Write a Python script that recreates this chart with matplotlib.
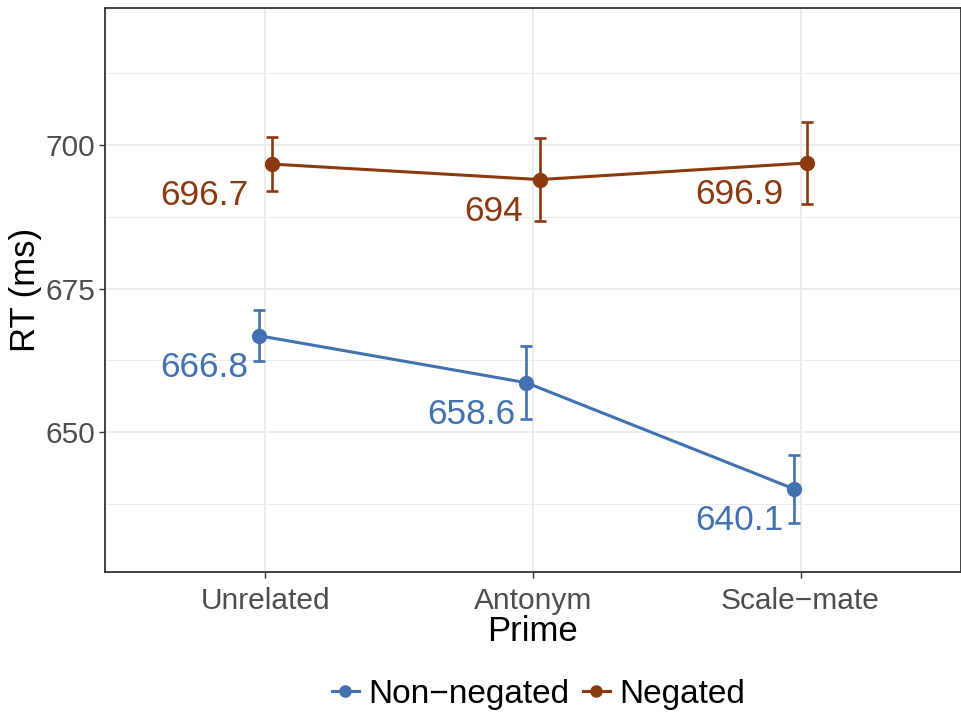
import numpy as np
import matplotlib
matplotlib.use('Agg')
import matplotlib.pyplot as plt

# data
primes = ['Unrelated', 'Antonym', 'Scale\u2212mate']
groups = ['Non\u2212negated', 'Negated']
rt_nonneg = [666.8, 658.6, 640.1]
rt_neg = [696.7, 694.0, 696.9]
se_nonneg = [4.5, 6.4, 5.9]
se_neg = [4.7, 7.2, 7.2]
labels_nonneg = ['666.8', '658.6', '640.1']
labels_neg = ['696.7', '694', '696.9']

colors = ['#4171AE', '#8A3A0E']
dodge = 0.025

plt.rcParams['font.family'] = ['Liberation Sans', 'DejaVu Sans']

fig = plt.figure(figsize=(9.62, 7.17), dpi=100)
ax = fig.add_axes([0.109, 0.2022, 0.89, 0.7866])

x = np.arange(1, len(primes) + 1)
series = [(rt_nonneg, se_nonneg, labels_nonneg, -dodge),
          (rt_neg, se_neg, labels_neg, dodge)]

handles = []
for (vals, errs, labs, dx), col, name in zip(series, colors, groups):
    ax.errorbar(x + dx, vals, yerr=errs, fmt='none', ecolor=col,
                elinewidth=1.9, capsize=4.3, capthick=1.9, zorder=3)
    h, = ax.plot(x + dx, vals, '-o', color=col, lw=2.2, ms=10, zorder=4, label=name)
    handles.append(h)
    for xi, v, lab in zip(x, vals, labs):
        ax.annotate(lab, (xi, v), xytext=(-2.5 * len(lab), -11),
                    textcoords='offset points', ha='right', va='top',
                    color=col, fontsize=25.5)

ax.set_xlim(0.4, 3.6)
ax.set_ylim(625.6, 723.9)
ax.set_xticks(x)
ax.set_xticklabels(primes)
ax.set_yticks([650, 675, 700])
ax.set_yticks([637.5, 662.5, 687.5, 712.5], minor=True)
ax.grid(True, which='major', color='#EBEBEB', lw=1.3)
ax.grid(True, which='minor', axis='y', color='#EBEBEB', lw=0.7)
ax.set_axisbelow(True)
ax.tick_params(axis='both', which='major', length=4, width=1, color='#333333',
               labelsize=21.5, labelcolor='#4D4D4D', pad=3)
ax.tick_params(axis='x', which='major', pad=7)
ax.tick_params(axis='y', which='minor', length=0)
for s in ax.spines.values():
    s.set_color('#333333')
    s.set_linewidth(1.3)

ax.set_xlabel('Prime', fontsize=25, labelpad=0)
ax.set_ylabel('RT (ms)', fontsize=25, labelpad=2)

fig.legend(handles=handles, loc='center', bbox_to_anchor=(0.56, 0.032), ncol=2,
           frameon=False, fontsize=24, handlelength=0.8, handletextpad=0.3,
           columnspacing=0.4, markerscale=0.8)

plt.savefig('out.png', dpi=100)
plt.close('all')
